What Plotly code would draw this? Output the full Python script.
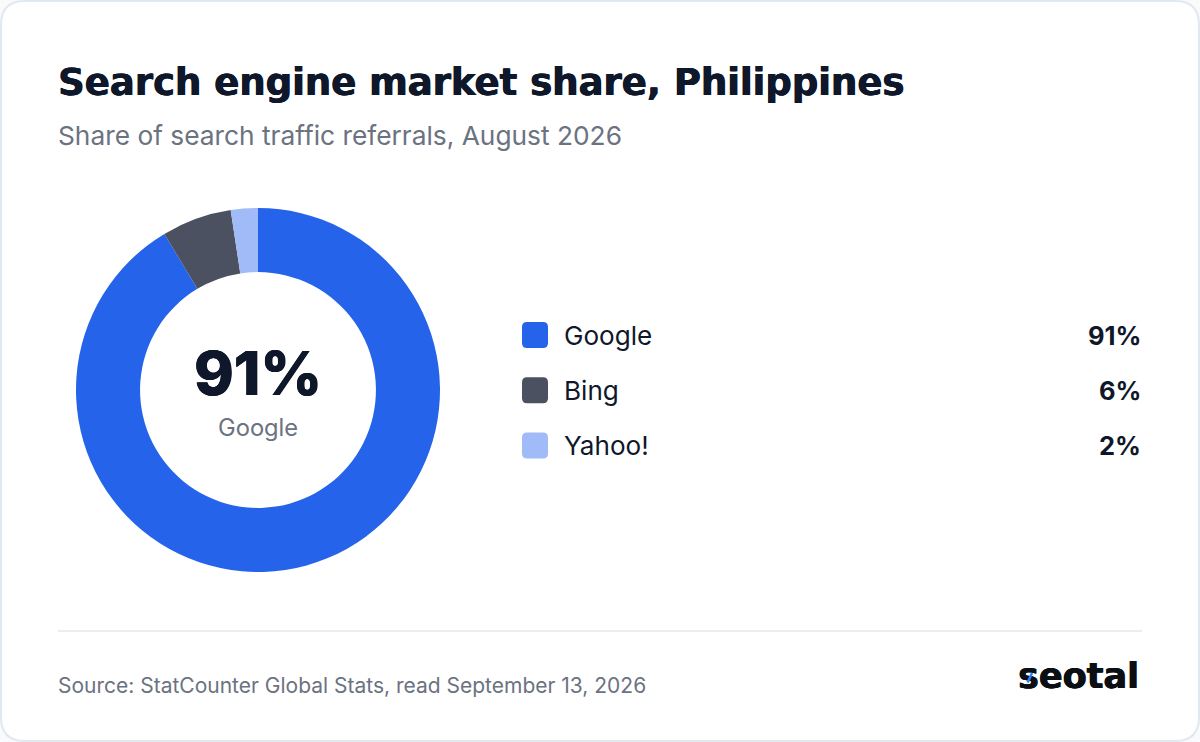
import plotly.graph_objects as go

categories = ["Google", "Bing", "Yahoo!"]
values = [91.4, 6.2, 2.4]
labels_pct = ["91%", "6%", "2%"]
colors = ["#2563EB", "#4B5161", "#A0BBF7"]

TITLE = "Search engine market share, Philippines"
SUBTITLE = "Share of search traffic referrals, August 2026"
SOURCE = "Source: StatCounter Global Stats, read September 13, 2026"

W, H = 1200, 742
HEAVY = "0.6px 0 0 {c}, -0.3px 0 0 {c}"


def px(x):
    return x / W


def py(y):
    return 1 - y / H


def rrect(x0, y0, x1, y1, r):
    X0, X1 = px(x0), px(x1)
    Y0, Y1 = py(y0), py(y1)
    rx, ry = r / W, r / H
    return (
        f"M{X0 + rx},{Y0} L{X1 - rx},{Y0} Q{X1},{Y0} {X1},{Y0 - ry} "
        f"L{X1},{Y1 + ry} Q{X1},{Y1} {X1 - rx},{Y1} "
        f"L{X0 + rx},{Y1} Q{X0},{Y1} {X0},{Y1 + ry} "
        f"L{X0},{Y0 - ry} Q{X0},{Y0} {X0 + rx},{Y0} Z"
    )


def txt(x, y, text, size, color, family="Inter", weight=400, anchor="left", shadow=None):
    font = dict(family=family, size=size, color=color, weight=weight)
    if shadow:
        font["shadow"] = shadow
    return dict(
        x=px(x), y=py(y), xref="paper", yref="paper", text=text, showarrow=False,
        xanchor=anchor, yanchor="middle", align=anchor, borderpad=0, borderwidth=0,
        font=font,
    )


fig = go.Figure(
    go.Pie(
        labels=categories, values=values, hole=0.648, sort=False,
        direction="clockwise", rotation=0, textinfo="none",
        marker=dict(colors=colors, line=dict(width=0)),
        domain=dict(x=[px(76), px(440)], y=[py(572), py(208)]),
        showlegend=False, hoverinfo="label+percent",
    )
)

shapes = [
    dict(type="path", path=rrect(1, 1, 1199, 741, 24), xref="paper", yref="paper",
         line=dict(color="#E2E8F0", width=2), fillcolor="#FFFFFF", layer="below"),
    dict(type="line", x0=px(58), x1=px(1142), y0=py(631), y1=py(631), xref="paper", yref="paper",
         line=dict(color="#E5E7EB", width=1.5)),
]
annotations = [
    txt(58, 82, TITLE, 37, "#0F172A", family="DejaVu Sans", weight=700,
        shadow=HEAVY.format(c="#0F172A")),
    txt(58, 136, SUBTITLE, 26.3, "#6B7280"),
    txt(258, 373, labels_pct[0], 60, "#0F172A", weight=800, anchor="center",
        shadow=HEAVY.format(c="#0F172A")),
    txt(258, 427, categories[0], 23.7, "#6B7280", anchor="center"),
    txt(58, 685, SOURCE, 21, "#6B7280"),
    txt(1018, 676, "seotal", 35, "#0B0F14", family="DejaVu Sans", weight=700,
        shadow=HEAVY.format(c="#0B0F14")),
]
for i, (name, pct, col) in enumerate(zip(categories, labels_pct, colors)):
    yc = 335 + i * 55.2
    shapes.append(dict(type="path", path=rrect(522, yc - 13, 548, yc + 13, 5), xref="paper", yref="paper",
                       fillcolor=col, line=dict(width=0)))
    annotations.append(txt(564, yc, name, 26.1, "#0F172A"))
    annotations.append(txt(1141, yc, pct, 25.5, "#0F172A", weight=700, anchor="right"))
annotations.append(dict(x=px(1032), y=py(673), xref="paper", yref="paper", text="", showarrow=True,
                        arrowhead=0, arrowwidth=2.5, arrowcolor="#2F80FF", ax=-5, ay=11,
                        standoff=0, startstandoff=0))

fig.update_layout(
    width=W, height=H, margin=dict(l=0, r=0, t=0, b=0),
    paper_bgcolor="#F8FAFC", plot_bgcolor="#FFFFFF",
    shapes=shapes, annotations=annotations,
)
fig.write_html("out.html", post_script="document.body.style.margin='0';",
               config=dict(displayModeBar=False))
